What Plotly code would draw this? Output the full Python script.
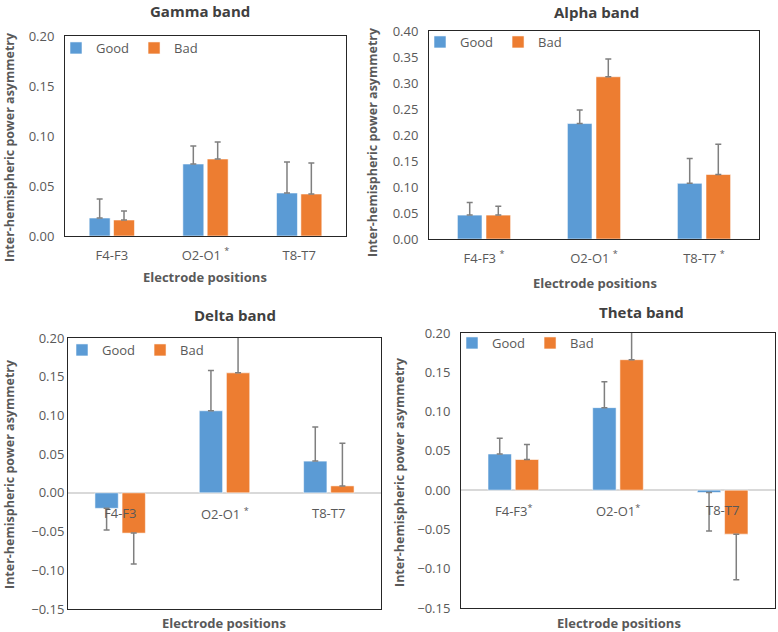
import plotly.graph_objects as go

# ---------------- data ----------------
series_names = ["Good", "Bad"]

gamma_labels = ["F4-F3", "O2-O1 <sup>*</sup>", "T8-T7"]
gamma_good = [0.018, 0.072, 0.043]
gamma_good_err = [0.019, 0.018, 0.031]
gamma_bad = [0.016, 0.077, 0.042]
gamma_bad_err = [0.009, 0.017, 0.031]

alpha_labels = ["F4-F3 <sup>*</sup>", "O2-O1 <sup>*</sup>", "T8-T7 <sup>*</sup>"]
alpha_good = [0.046, 0.222, 0.107]
alpha_good_err = [0.024, 0.026, 0.048]
alpha_bad = [0.046, 0.312, 0.124]
alpha_bad_err = [0.017, 0.034, 0.058]

delta_labels = ["F4-F3", "O2-O1 <sup>*</sup>", "T8-T7"]
delta_good = [-0.020, 0.106, 0.041]
delta_good_err = [0.028, 0.052, 0.044]
delta_bad = [-0.052, 0.155, 0.009]
delta_bad_err = [0.040, 0.060, 0.055]

theta_labels = ["F4-F3<sup>*</sup>", "O2-O1<sup>*</sup>", "T8-T7"]
theta_good = [0.046, 0.105, -0.003]
theta_good_err = [0.020, 0.033, 0.049]
theta_bad = [0.039, 0.166, -0.056]
theta_bad_err = [0.019, 0.050, 0.058]

gamma_ticks = [0.00, 0.05, 0.10, 0.15, 0.20]
alpha_ticks = [0.00, 0.05, 0.10, 0.15, 0.20, 0.25, 0.30, 0.35, 0.40]
low_ticks = [-0.15, -0.10, -0.05, 0.00, 0.05, 0.10, 0.15, 0.20]

# ---------------- style / layout ----------------
BLUE = "#5B9BD5"
ORANGE = "#ED7D31"
ERR = "#7F7F7F"
TXT = "#595959"
TITLE = "#404040"
FONT = "Open Sans"

W, H = 778, 632


def px(x):
    return x / W


def py(y):
    return 1 - y / H


panels = [
    dict(name="Gamma band", labels=gamma_labels, good=gamma_good, good_err=gamma_good_err,
         bad=gamma_bad, bad_err=gamma_bad_err, ticks=gamma_ticks, rng=[0, 0.20],
         box=(65, 346, 36, 236), legend=(56, 33), title=(200, 11), xtitle=(205, 277),
         ytitle=(9, 147), ystand=7, zero_labels=False),
    dict(name="Alpha band", labels=alpha_labels, good=alpha_good, good_err=alpha_good_err,
         bad=alpha_bad, bad_err=alpha_bad_err, ticks=alpha_ticks, rng=[0, 0.40],
         box=(429, 759, 31, 239), legend=(420, 27), title=(596, 12), xtitle=(595, 283),
         ytitle=(373, 142), ystand=7, zero_labels=False),
    dict(name="Delta band", labels=delta_labels, good=delta_good, good_err=delta_good_err,
         bad=delta_bad, bad_err=delta_bad_err, ticks=low_ticks, rng=[-0.15, 0.20],
         box=(68, 381, 338, 609), legend=(62, 335), title=(235, 315), xtitle=(224, 623),
         ytitle=(9, 474), ystand=0, zero_labels=True),
    dict(name="Theta band", labels=theta_labels, good=theta_good, good_err=theta_good_err,
         bad=theta_bad, bad_err=theta_bad_err, ticks=low_ticks, rng=[-0.15, 0.20],
         box=(461, 775, 333, 608), legend=(452, 328), title=(641, 312), xtitle=(619, 623),
         ytitle=(399, 472), ystand=7, zero_labels=True),
]


def split_err(vals, errs):
    plus = [e if v >= 0 else 0 for v, e in zip(vals, errs)]
    minus = [e if v < 0 else 0 for v, e in zip(vals, errs)]
    return plus, minus


fig = go.Figure()
layout = dict(
    width=W, height=H,
    margin=dict(l=0, r=0, t=0, b=0, autoexpand=False),
    paper_bgcolor="white", plot_bgcolor="white",
    barmode="group", bargap=0.48, bargroupgap=0.14,
    font=dict(family=FONT, color=TXT, size=13),
    showlegend=True,
)
annotations = []

for i, p in enumerate(panels, start=1):
    sfx = "" if i == 1 else str(i)
    xa, ya = "x" + sfx, "y" + sfx
    leg = "legend" + sfx
    x0, x1, y0, y1 = p["box"]
    for name, vals, errs, col in [("Good", p["good"], p["good_err"], BLUE),
                                  ("Bad", p["bad"], p["bad_err"], ORANGE)]:
        plus, minus = split_err(vals, errs)
        fig.add_trace(go.Bar(
            x=p["labels"], y=vals, name=name, xaxis=xa, yaxis=ya, legend=leg,
            marker=dict(color=col, line=dict(color="rgba(255,255,255,0.55)", width=1)),
            error_y=dict(type="data", symmetric=False, array=plus, arrayminus=minus,
                         color=ERR, thickness=1.5, width=3),
            hoverinfo="x+y",
        ))
    layout["xaxis" + sfx] = dict(
        domain=[px(x0), px(x1)], anchor=ya, type="category", automargin=False,
        showline=True, linecolor="#262626", linewidth=1, mirror=True,
        ticks="", showgrid=False, zeroline=False,
        showticklabels=not p["zero_labels"],
        tickfont=dict(size=13, color=TXT), ticklabelstandoff=7,
    )
    layout["yaxis" + sfx] = dict(
        domain=[py(y1), py(y0)], anchor=xa, range=p["rng"], automargin=False,
        tickvals=p["ticks"], tickformat=".2f",
        showline=True, linecolor="#262626", linewidth=1, mirror=True,
        ticks="", showgrid=False,
        zeroline=p["zero_labels"], zerolinecolor="#D9D9D9", zerolinewidth=1.5,
        tickfont=dict(size=13, color=TXT),
        ticklabelstandoff=p["ystand"],
    )
    layout[leg] = dict(
        x=px(p["legend"][0]), y=py(p["legend"][1]), xref="paper", yref="paper",
        xanchor="left", yanchor="top", orientation="h",
        bgcolor="rgba(0,0,0,0)", font=dict(size=13, color=TXT),
        itemwidth=30, tracegroupgap=0, traceorder="normal",
    )
    annotations.append(dict(
        text="<b>%s</b>" % p["name"], x=px(p["title"][0]), y=py(p["title"][1]),
        xref="paper", yref="paper", showarrow=False, xanchor="center", yanchor="middle",
        font=dict(size=15, color=TITLE, family=FONT),
    ))
    annotations.append(dict(
        text="<b>Electrode positions</b>", x=px(p["xtitle"][0]), y=py(p["xtitle"][1]),
        xref="paper", yref="paper", showarrow=False, xanchor="center", yanchor="middle",
        font=dict(size=13, color=TXT, family=FONT),
    ))
    annotations.append(dict(
        text="<b>Inter-hemispheric power asymmetry</b>",
        x=px(p["ytitle"][0]), y=py(p["ytitle"][1]),
        xref="paper", yref="paper", showarrow=False, textangle=-90,
        xanchor="center", yanchor="middle",
        font=dict(size=12.5, color=TXT, family=FONT),
    ))
    if p["zero_labels"]:
        for lab in p["labels"]:
            annotations.append(dict(
                text=lab, x=lab, y=0, xref=xa, yref=ya, showarrow=False,
                xanchor="center", yanchor="top", yshift=-9,
                font=dict(size=13, color=TXT, family=FONT),
            ))

layout["annotations"] = annotations
fig.update_layout(**layout)
fig.write_html(
    "out.html",
    config={"displayModeBar": False},
    post_script="document.body.style.margin='0';document.body.style.overflow='hidden';",
)
